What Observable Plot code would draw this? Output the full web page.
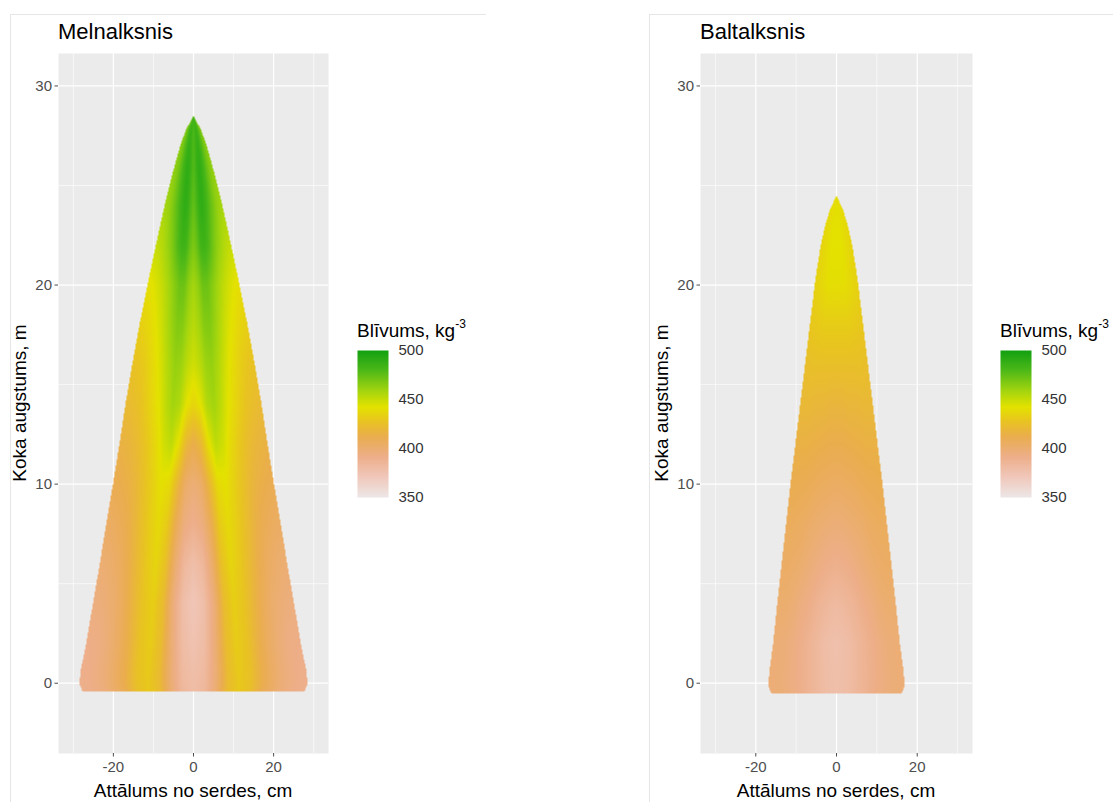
<!DOCTYPE html>
<html>
<head>
<meta charset="utf-8">
<script src="https://cdn.jsdelivr.net/npm/d3@7"></script>
<script src="https://cdn.jsdelivr.net/npm/@observablehq/plot@0.6"></script>
<style>
  html, body { margin: 0; padding: 0; background: #ffffff; }
  #root { position: relative; width: 1113px; height: 802px; overflow: hidden;
          font-family: "Liberation Sans", Arial, sans-serif; color: #000; }
  .abs { position: absolute; white-space: nowrap; }
  .border { position: absolute; border-top: 1px solid #E6E6E6; border-left: 1px solid #E6E6E6; }
  .title { font-size: 22px; line-height: 22px; }
  .axtitle { font-size: 19px; line-height: 19px; }
  .legtitle { font-size: 19px; line-height: 19px; }
  .legtitle sup { font-size: 12px; position: relative; top: -9px; vertical-align: baseline; }
</style>
</head>
<body>
<div id="root"></div>
<script>
// ---------------- data ----------------
const panelTitles = ["Melnalksnis", "Baltalksnis"];
const xAxisTitle = "Attālums no serdes, cm";
const yAxisTitle = "Koka augstums, m";
const legendTitle = "Blīvums, kg";
const legendExponent = "-3";

const xDomain = [-33.7, 33.7];
const yDomain = [-3.53, 31.63];
const xMajorTicks = [-20, 0, 20];
const xMinorTicks = [-30, -10, 10, 30];
const yMajorTicks = [0, 10, 20, 30];
const yMinorTicks = [5, 15, 25];
const legendTicks = [350, 400, 450, 500];

// colour scale stops (density, kg m-3)
const colorStops = [350, 372, 392, 412, 428, 442, 458, 480, 500];
const colorRange = ["#EDE7E7", "#F0C6B8", "#EDAE88", "#EAAD4E", "#E8C420", "#E4E200", "#A6D60E", "#4CB818", "#12A112"];

// relative distance from pith (0 = pith, 1 = bark)
const relRadius = [0, 0.1, 0.2, 0.3, 0.4, 0.5, 0.6, 0.7, 0.8, 0.9, 1];

// Melnalksnis: stem profile (height m -> radius cm)
const melProfileHeight = [-0.4, -0.1, 0.5, 2, 4, 6, 8, 10, 12, 14, 16, 18, 20, 22, 24, 25, 26, 27, 27.8, 28.5];
const melProfileRadius = [27.7, 28.4, 28.3, 26.8, 25.1, 23.4, 21.8, 20.1, 18.5, 17.0, 15.3, 13.5, 11.5, 9.4, 7.2, 6.0, 4.7, 3.3, 1.9, 0];
// Melnalksnis: density rows at these heights, columns = relRadius
const melHeights = [-0.4, 2, 4, 6, 8, 10, 12, 14, 16, 18, 20, 22, 24, 26, 28.6];
const melDensity = [
  [380, 384, 400, 422, 430, 425, 412, 403, 396, 392, 390],
  [375, 380, 398, 422, 432, 427, 415, 405, 398, 393, 392],
  [372, 378, 396, 422, 433, 428, 418, 408, 401, 397, 395],
  [378, 384, 402, 426, 436, 430, 421, 412, 405, 401, 399],
  [390, 395, 410, 431, 438, 432, 424, 416, 410, 406, 404],
  [398, 403, 420, 438, 441, 434, 427, 420, 415, 412, 410],
  [412, 420, 440, 452, 447, 438, 431, 425, 420, 417, 415],
  [436, 442, 455, 459, 452, 443, 437, 431, 426, 423, 421],
  [447, 452, 460, 462, 456, 448, 441, 436, 431, 428, 426],
  [453, 458, 466, 467, 461, 454, 447, 442, 438, 435, 433],
  [458, 463, 472, 472, 466, 460, 454, 449, 445, 442, 440],
  [468, 474, 484, 485, 480, 472, 465, 460, 455, 452, 450],
  [474, 480, 488, 490, 486, 480, 474, 468, 463, 460, 458],
  [478, 483, 488, 490, 488, 484, 478, 473, 468, 465, 463],
  [480, 482, 484, 485, 485, 483, 480, 476, 472, 470, 468]
];

// Baltalksnis
const balProfileHeight = [-0.5, -0.2, 0.5, 2, 4, 6, 8, 10, 12, 14, 16, 18, 20, 21, 22, 23, 23.8, 24.5];
const balProfileRadius = [16.2, 16.8, 16.7, 15.7, 14.7, 13.6, 12.5, 11.4, 10.2, 9.0, 7.8, 6.6, 5.4, 4.7, 3.9, 2.8, 1.6, 0];
const balHeights = [-0.5, 2, 4, 6, 8, 10, 12, 14, 16, 18, 20, 22, 24.5];
const balDensity = [
  [378, 379, 381, 384, 387, 390, 393, 395, 397, 398, 398],
  [377, 378, 380, 383, 386, 389, 392, 395, 397, 398, 399],
  [382, 383, 385, 387, 390, 393, 395, 398, 400, 401, 401],
  [390, 391, 392, 394, 396, 398, 400, 402, 403, 404, 404],
  [398, 398, 399, 400, 401, 402, 404, 405, 406, 407, 407],
  [405, 405, 406, 406, 407, 408, 409, 410, 410, 411, 411],
  [412, 412, 412, 413, 413, 414, 414, 415, 415, 415, 415],
  [418, 418, 418, 419, 419, 419, 419, 420, 420, 420, 420],
  [425, 425, 425, 425, 425, 425, 425, 425, 425, 424, 424],
  [432, 432, 432, 432, 432, 432, 431, 431, 430, 430, 429],
  [440, 440, 440, 440, 440, 439, 438, 437, 436, 435, 434],
  [442, 442, 442, 442, 441, 440, 439, 438, 437, 436, 435],
  [440, 440, 440, 440, 440, 440, 440, 440, 440, 440, 440]
];

// ---------------- helpers ----------------
function lerpArr(xs, ys, x) {
  const n = xs.length;
  if (x <= xs[0]) return ys[0];
  if (x >= xs[n - 1]) return ys[n - 1];
  const i = Math.min(n - 2, d3.bisectRight(xs, x) - 1);
  const t = (x - xs[i]) / (xs[i + 1] - xs[i]);
  return ys[i] + t * (ys[i + 1] - ys[i]);
}

function densityField(rowHeights, grid, profH, profR) {
  return (x, y) => {
    if (y < profH[0] || y > profH[profH.length - 1]) return NaN;
    const R = lerpArr(profH, profR, y);
    const ax = Math.abs(x);
    if (!(R > 0) || ax > R) return NaN;
    const r = ax / R;
    const n = rowHeights.length;
    let i;
    if (y <= rowHeights[0]) i = 0;
    else if (y >= rowHeights[n - 1]) i = n - 2;
    else i = Math.min(n - 2, d3.bisectRight(rowHeights, y) - 1);
    const t = Math.max(0, Math.min(1, (y - rowHeights[i]) / (rowHeights[i + 1] - rowHeights[i])));
    const a = lerpArr(relRadius, grid[i], r);
    const b = lerpArr(relRadius, grid[i + 1], r);
    return a + t * (b - a);
  };
}

const colorOpts = { type: "linear", domain: colorStops, range: colorRange, interpolate: "rgb", clamp: true };
const fontFamily = "Liberation Sans, Arial, sans-serif";
const plainFormat = d => String(d);

function panel(field, frameWidth) {
  return Plot.plot({
    width: 58 + frameWidth + 10,
    height: 748,
    marginLeft: 58, marginRight: 10, marginTop: 8, marginBottom: 40,
    x: { domain: xDomain },
    y: { domain: yDomain },
    color: colorOpts,
    style: { fontFamily, fontSize: "15px", background: "transparent", overflow: "visible" },
    marks: [
      Plot.frame({ fill: "#EBEBEB", stroke: null }),
      Plot.gridX(xMinorTicks, { stroke: "#FFFFFF", strokeOpacity: 1, strokeWidth: 0.6 }),
      Plot.gridY(yMinorTicks, { stroke: "#FFFFFF", strokeOpacity: 1, strokeWidth: 0.6 }),
      Plot.gridX(xMajorTicks, { stroke: "#FFFFFF", strokeOpacity: 1, strokeWidth: 1.2 }),
      Plot.gridY(yMajorTicks, { stroke: "#FFFFFF", strokeOpacity: 1, strokeWidth: 1.2 }),
      Plot.raster({ fill: field, x1: xDomain[0], x2: xDomain[1], y1: yDomain[0], y2: yDomain[1], pixelSize: 1 }),
      Plot.axisX({ ticks: xMajorTicks, tickFormat: plainFormat, tickSize: 3.5, tickPadding: 4, color: "#4D4D4D", label: null }),
      Plot.axisY({ ticks: yMajorTicks, tickFormat: plainFormat, tickSize: 3.5, tickPadding: 3, color: "#4D4D4D", label: null })
    ]
  });
}

function legendBar() {
  return Plot.plot({
    width: 31 + 50, height: 147 + 20,
    marginLeft: 0, marginRight: 50, marginTop: 10, marginBottom: 10,
    x: { domain: [0, 1], axis: null },
    y: { domain: [350, 500] },
    color: colorOpts,
    style: { fontFamily, fontSize: "15px", background: "transparent", overflow: "visible" },
    marks: [
      Plot.raster({ fill: (x, y) => y, x1: 0, x2: 1, y1: 350, y2: 500 }),
      Plot.axisY({ anchor: "right", ticks: legendTicks, tickFormat: plainFormat, tickSize: 0, tickPadding: 10, color: "#333333", label: null })
    ]
  });
}

// ---------------- layout ----------------
const root = document.getElementById("root");
function place(el, left, top) {
  el.style.position = "absolute";
  el.style.left = left + "px";
  el.style.top = top + "px";
  root.appendChild(el);
  return el;
}
function textDiv(cls, html, left, top, extra) {
  const d = document.createElement("div");
  d.className = "abs " + cls;
  d.innerHTML = html;
  d.style.left = left + "px";
  d.style.top = top + "px";
  if (extra) Object.assign(d.style, extra);
  root.appendChild(d);
  return d;
}

// figure borders
[[10, 14, 475], [649, 14, 520]].forEach(([l, t, w]) => {
  const b = document.createElement("div");
  b.className = "border";
  Object.assign(b.style, { left: l + "px", top: t + "px", width: w + "px", height: "820px" });
  root.appendChild(b);
});

const figures = [
  { title: panelTitles[0], field: densityField(melHeights, melDensity, melProfileHeight, melProfileRadius), svgLeft: 0, frameWidth: 270, legendLeft: 357 },
  { title: panelTitles[1], field: densityField(balHeights, balDensity, balProfileHeight, balProfileRadius), svgLeft: 642, frameWidth: 272, legendLeft: 1000 }
];

figures.forEach(f => {
  place(panel(f.field, f.frameWidth), f.svgLeft, 45);
  const frameLeft = f.svgLeft + 58;
  const frameCenter = frameLeft + f.frameWidth / 2;
  textDiv("title", f.title, frameLeft, 21);
  textDiv("axtitle", xAxisTitle, frameCenter - 150, 781, { width: "300px", textAlign: "center" });
  textDiv("axtitle", yAxisTitle, frameLeft - 39, 403, { transform: "translate(-50%, -50%) rotate(-90deg)" });
  textDiv("legtitle", legendTitle + "<sup>" + legendExponent + "</sup>", f.legendLeft, 321);
  place(legendBar(), f.legendLeft, 340);
});
</script>
</body>
</html>
